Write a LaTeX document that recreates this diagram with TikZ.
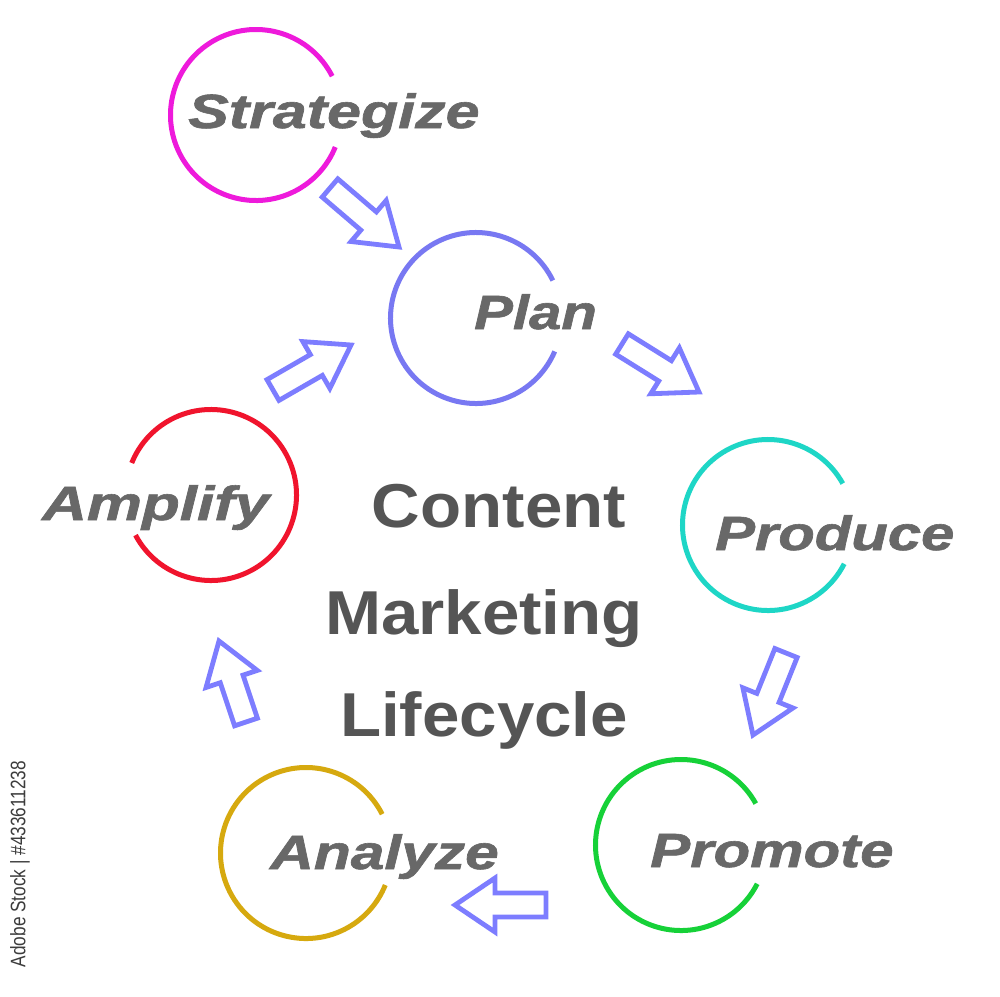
\documentclass[tikz,border=0pt]{standalone}
\usepackage{fontspec}
\setmainfont{Liberation Sans}
\newfontfamily\labelfont{Liberation Sans}[BoldItalicFeatures={FakeBold=1.2}]
\usetikzlibrary{calc}
\definecolor{cstrat}{HTML}{EE1ADB}
\definecolor{cplan}{HTML}{7878F2}
\definecolor{cprod}{HTML}{1ED6C6}
\definecolor{cprom}{HTML}{16D138}
\definecolor{canal}{HTML}{D6A90F}
\definecolor{campl}{HTML}{F0142D}
\definecolor{arrowblue}{HTML}{7D7DFF}
\definecolor{labelgray}{HTML}{686868}
\definecolor{titlegray}{HTML}{555555}
\definecolor{wmgray}{HTML}{3C3C3C}
\def\arrsw{12pt}
\def\arrhw{27pt}
\def\arrhl{40pt}
\newcommand\blockarrow[3]{%
  \coordinate (#1b) at ($(#3)!\arrhl!(#2)$);
  \draw[barrow] ($(#2)!\arrsw!90:(#3)$) -- ($(#1b)!\arrsw!-90:(#2)$) -- ($(#1b)!\arrhw!-90:(#2)$)
    -- (#3) -- ($(#1b)!\arrhw!90:(#2)$) -- ($(#1b)!\arrsw!90:(#2)$) -- ($(#2)!\arrsw!-90:(#3)$) -- cycle;}
\begin{document}
\begin{tikzpicture}[x=1pt,y=-1pt,
  ring/.style={circle, minimum size=171pt, inner sep=0pt, outer sep=0pt},
  arcline/.style={line width=5pt},
  lbl/.style={inner sep=0pt, anchor=base west, text=labelgray, font=\labelfont\fontsize{48}{48}\selectfont\bfseries\itshape},
  title/.style={inner sep=0pt, anchor=base, text=titlegray, font=\fontsize{62}{62}\selectfont\bfseries},
  barrow/.style={draw=arrowblue, line width=4.8pt, line join=miter, fill=none}]
\fill[white] (0,0) rectangle (1000,996);
\useasboundingbox (0,0) rectangle (1000,996);

% rings
\node[ring] (strat) at (256,115) {};
\draw[arcline, cstrat] (strat.27) arc[start angle=27, end angle=338, radius=85.5pt];
\node[ring] (plan) at (476,318) {};
\draw[arcline, cplan] (plan.26) arc[start angle=26, end angle=337, radius=85.5pt];
\node[ring] (prod) at (768,525) {};
\draw[arcline, cprod] (prod.29) arc[start angle=29, end angle=333, radius=85.5pt];
\node[ring] (prom) at (681,845) {};
\draw[arcline, cprom] (prom.29) arc[start angle=29, end angle=333, radius=85.5pt];
\node[ring] (anal) at (306,853) {};
\draw[arcline, canal] (anal.27) arc[start angle=27, end angle=338, radius=85.5pt];
\node[ring] (ampl) at (211,495) {};
\draw[arcline, campl] (ampl.208) arc[start angle=-152, end angle=158, radius=85.5pt];

% labels
\node[lbl] (stratL) at (188,128) {\scalebox{1.27}[1]{Strategize}};
\node[lbl] (planL) at (474,329) {\scalebox{1.21}[1]{Plan}};
\node[lbl] (prodL) at (715,550) {\scalebox{1.245}[1]{Produce}};
\node[lbl] (promL) at (650,867) {\scalebox{1.25}[1]{Promote}};
\node[lbl] (analL) at (270,869) {\scalebox{1.26}[1]{Analyze}};
\node[lbl] (amplL) at (42,520) {\scalebox{1.29}[1]{Amplify}};

% title
\node[title] (t1) at (499,527) {\scalebox{1.085}[1]{Content}};
\node[title] (t2) at (484,634) {\scalebox{1.085}[1]{Marketing}};
\node[title] (t3) at (484,736) {\scalebox{1.085}[1]{Lifecycle}};

% arrows
\coordinate (a1s) at (330,188); \coordinate (a1e) at (399,247);
\blockarrow{a1}{a1s}{a1e}
\coordinate (a2s) at (622,344); \coordinate (a2e) at (699,392);
\blockarrow{a2}{a2s}{a2e}
\coordinate (a3s) at (786,653); \coordinate (a3e) at (753,735);
\blockarrow{a3}{a3s}{a3e}
\coordinate (a4s) at (546,905); \coordinate (a4e) at (455,905);
\blockarrow{a4}{a4s}{a4e}
\coordinate (a5s) at (246,722); \coordinate (a5e) at (219,641);
\blockarrow{a5}{a5s}{a5e}
\coordinate (a6s) at (273,390); \coordinate (a6e) at (351,345);
\blockarrow{a6}{a6s}{a6e}

% watermark caption
\node[rotate=90, inner sep=0pt, text=wmgray, font=\fontsize{21}{21}\selectfont] (wm) at (20,864) {\scalebox{0.82}[1]{Adobe Stock | \#433611238}};
\end{tikzpicture}
\end{document}
